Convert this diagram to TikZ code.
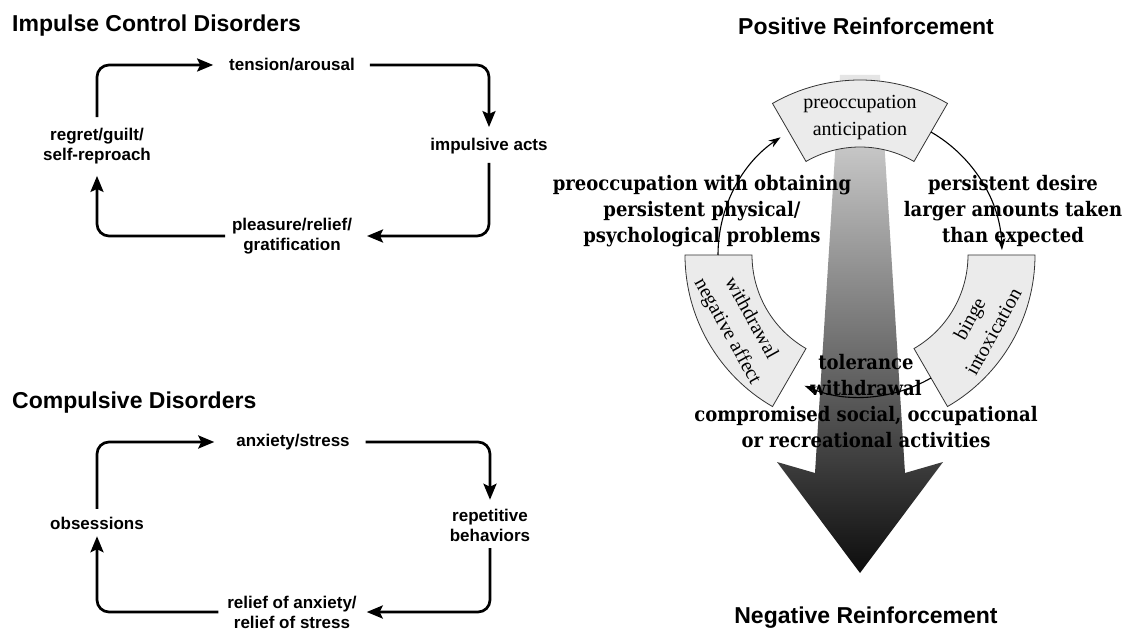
\documentclass[tikz,border=0pt]{standalone}
\usepackage{fontspec}
\setmainfont{Liberation Sans}
\newfontfamily\boxfont{Liberation Serif}
\newfontfamily\slabfont{DejaVu Serif Condensed}
\usetikzlibrary{arrows.meta,calc}
\begin{document}
\begin{tikzpicture}[x=1pt,y=1pt,
  title/.style={font=\fontsize{23}{27}\selectfont\bfseries, inner sep=0pt},
  lbl/.style={font=\fontsize{17}{20}\selectfont\bfseries, align=center, inner sep=0pt, outer sep=0pt},
  cyc/.style={line width=2.7pt, rounded corners=12pt, -{Stealth[length=16pt,width=13pt,inset=3pt]}},
  sector/.style={draw=black!80, line width=0.8pt, fill=black!8},
  boxtxt/.style={font=\boxfont\fontsize{20}{27}\selectfont, align=center, inner sep=0pt},
  note/.style={font=\slabfont\bfseries\fontsize{20}{25.7}\selectfont, align=center, inner sep=0pt},
  ring/.style={line width=1.1pt, -{Stealth[length=12pt,width=8pt]}}
]
\useasboundingbox[fill=white] (0,0) rectangle (1130,630);

% ---------- Impulse control disorders ----------
\node[title, anchor=base west] (t1) at (12,598) {Impulse Control Disorders};
\node[lbl] (ten) at (292,565) {tension/arousal};
\node[lbl] (imp) at (489,484) {impulsive acts};
\node[lbl] (ple) at (292,394) {pleasure/relief/\\gratification};
\node[lbl] (reg) at (97,484) {regret/guilt/\\self-reproach};
\draw[cyc] ([yshift=11pt]reg.north) |- ([xshift=-16pt]ten.west);
\draw[cyc] ([xshift=15pt]ten.east) -| ([yshift=11pt]imp.north);
\draw[cyc] ([yshift=-9pt]imp.south) |- ([xshift=15pt]ple.east);
\draw[cyc] ([xshift=-7pt]ple.west) -| ([yshift=-12pt]reg.south);

% ---------- Compulsive disorders ----------
\node[title, anchor=base west] (t2) at (12,222) {Compulsive Disorders};
\node[lbl] (anx) at (293,188) {anxiety/stress};
\node[lbl] (rep) at (490,105) {repetitive\\behaviors};
\node[lbl] (rel) at (292,18) {relief of anxiety/\\relief of stress};
\node[lbl] (obs) at (97,107) {obsessions};
\draw[cyc] ([yshift=8pt]obs.north) |- ([xshift=-22pt]anx.west);
\draw[cyc] ([xshift=16pt]anx.east) -| ([yshift=9pt]rep.north);
\draw[cyc] ([yshift=-7pt]rep.south) |- ([xshift=10pt]rel.east);
\draw[cyc] ([xshift=-9pt]rel.west) -| ([yshift=-7pt]obs.south);

% ---------- Addiction cycle ----------
\node[title, anchor=base] (t3) at (866,595) {Positive Reinforcement};
\node[title, anchor=base] (t4) at (866,7) {Negative Reinforcement};

\shade[top color=black!10, middle color=black!52, bottom color=black!95]
  (840,555) -- (880,555) -- (905,157) -- (943,168) -- (860,57) -- (777,168) -- (815,157) -- cycle;

\coordinate (C) at (860,375);
\draw[sector] ($(C)+(60:175)$) arc[start angle=60,end angle=120,radius=175]
  -- ($(C)+(120:108)$) arc[start angle=120,end angle=60,radius=108] -- cycle;
\draw[sector] ($(C)+(180:175)$) arc[start angle=180,end angle=240,radius=175]
  -- ($(C)+(240:108)$) arc[start angle=240,end angle=180,radius=108] -- cycle;
\draw[sector] ($(C)+(300:175)$) arc[start angle=300,end angle=360,radius=175]
  -- ($(C)+(360:108)$) arc[start angle=360,end angle=300,radius=108] -- cycle;

\coordinate (a1) at ($(C)+(180:142)$);
\coordinate (a2) at ($(C)+(60:142)$);
\coordinate (a3) at ($(C)+(300:142)$);
\draw[ring] (a1) arc[start angle=180,end angle=124,radius=142];
\draw[ring] (a2) arc[start angle=60,end angle=2,radius=142];
\draw[ring] (a3) arc[start angle=300,end angle=247,radius=142];

\node[boxtxt] (pre) at (860,512) {preoccupation\\anticipation};
\node[boxtxt, rotate=-61] (wd) at ($(C)+(210:140)$) {withdrawal\\negative affect};
\node[boxtxt, rotate=61] (bi) at ($(C)+(330:140)$) {binge\\intoxication};

\node[note] (n1) at (702,419) {preoccupation with obtaining\\persistent physical/\\psychological problems};
\node[note] (n2) at (1013,419) {persistent desire\\larger amounts taken\\than expected};
\node[note] (n3) at (866,229) {tolerance\\withdrawal\\compromised social, occupational\\or recreational activities};
\end{tikzpicture}
\end{document}
